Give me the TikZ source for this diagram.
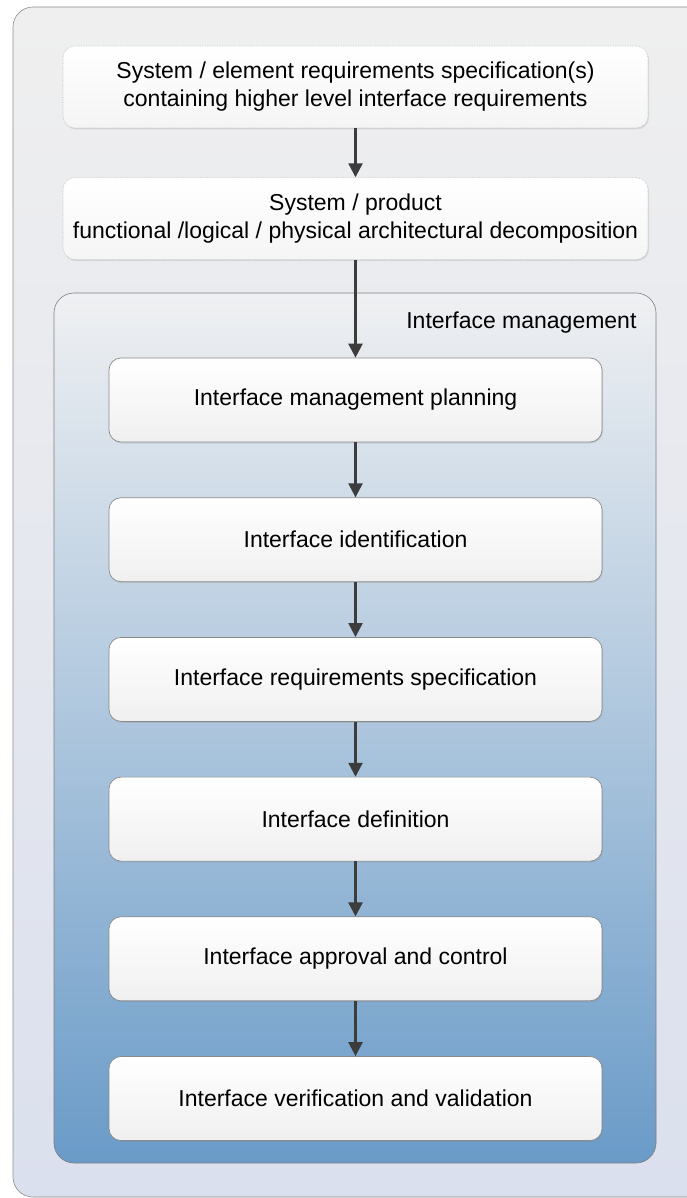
\documentclass[tikz,border=0pt]{standalone}
\usepackage{fontspec}
\setmainfont{Liberation Sans}
\usetikzlibrary{positioning,arrows.meta,shadows}

\definecolor{panelTop}{HTML}{EFEFEF}
\definecolor{panelBot}{HTML}{DBE0EE}
\definecolor{imTop}{HTML}{EFF0F2}
\definecolor{imBot}{HTML}{6A9BC8}
\definecolor{boxLine}{HTML}{8A8A8A}
\definecolor{arrowGray}{HTML}{3C3C3C}

\tikzstyle{block} = [rectangle, draw=boxLine, line width=0.7pt, rounded corners=12pt, top color=white, bottom color=black!6, minimum width=493pt, minimum height=84pt, align=center, font=\fontsize{23}{28}\selectfont, drop shadow={shadow xshift=1pt, shadow yshift=-1.5pt, opacity=0.2}]
\tikzstyle{topblock} = [block, draw=black!25, densely dotted, line width=0.6pt, bottom color=black!4, minimum width=585pt, minimum height=82pt]
\tikzstyle{flow} = [draw=arrowGray, line width=2.4pt, -{Triangle[length=14pt,width=14pt]}]

\begin{document}
\begin{tikzpicture}[x=1pt, y=-1pt]
        \tikzset{node distance = 55pt}
        \useasboundingbox (0,0) rectangle (686,1198);
        % panels
        \shade[top color=panelTop, bottom color=panelBot, draw=black!45, line width=0.6pt, rounded corners=20pt] (13,7) rectangle (710,1197);
        \shade[top color=imTop, bottom color=imBot, draw=black!50, line width=0.6pt, rounded corners=20pt] (54,293) rectangle (656,1163);
        \node (imlabel) [anchor=east, font=\fontsize{23}{28}\selectfont] at (640,323) {Interface management};
        % input blocks
        \node (n1) at (355.5,87) [topblock] {System / element requirements specification(s)\\containing higher level interface requirements};
        \node (n2) [topblock, below=49pt of n1] {System / product\\functional /logical / physical architectural decomposition};
        % interface management steps
        \node (p1) at (355.5,400) [block] {Interface management planning};
        \node (p2) [block, below=of p1] {Interface identification};
        \node (p3) [block, below=of p2] {Interface requirements specification};
        \node (p4) [block, below=of p3] {Interface definition};
        \node (p5) [block, below=of p4] {Interface approval and control};
        \node (p6) [block, below=of p5] {Interface verification and validation};
        % arrows
        \draw[flow] (n1) -- (n2);
        \draw[flow] (n2) -- (p1);
        \draw[flow] (p1) -- (p2);
        \draw[flow] (p2) -- (p3);
        \draw[flow] (p3) -- (p4);
        \draw[flow] (p4) -- (p5);
        \draw[flow] (p5) -- (p6);
\end{tikzpicture}
\end{document}
